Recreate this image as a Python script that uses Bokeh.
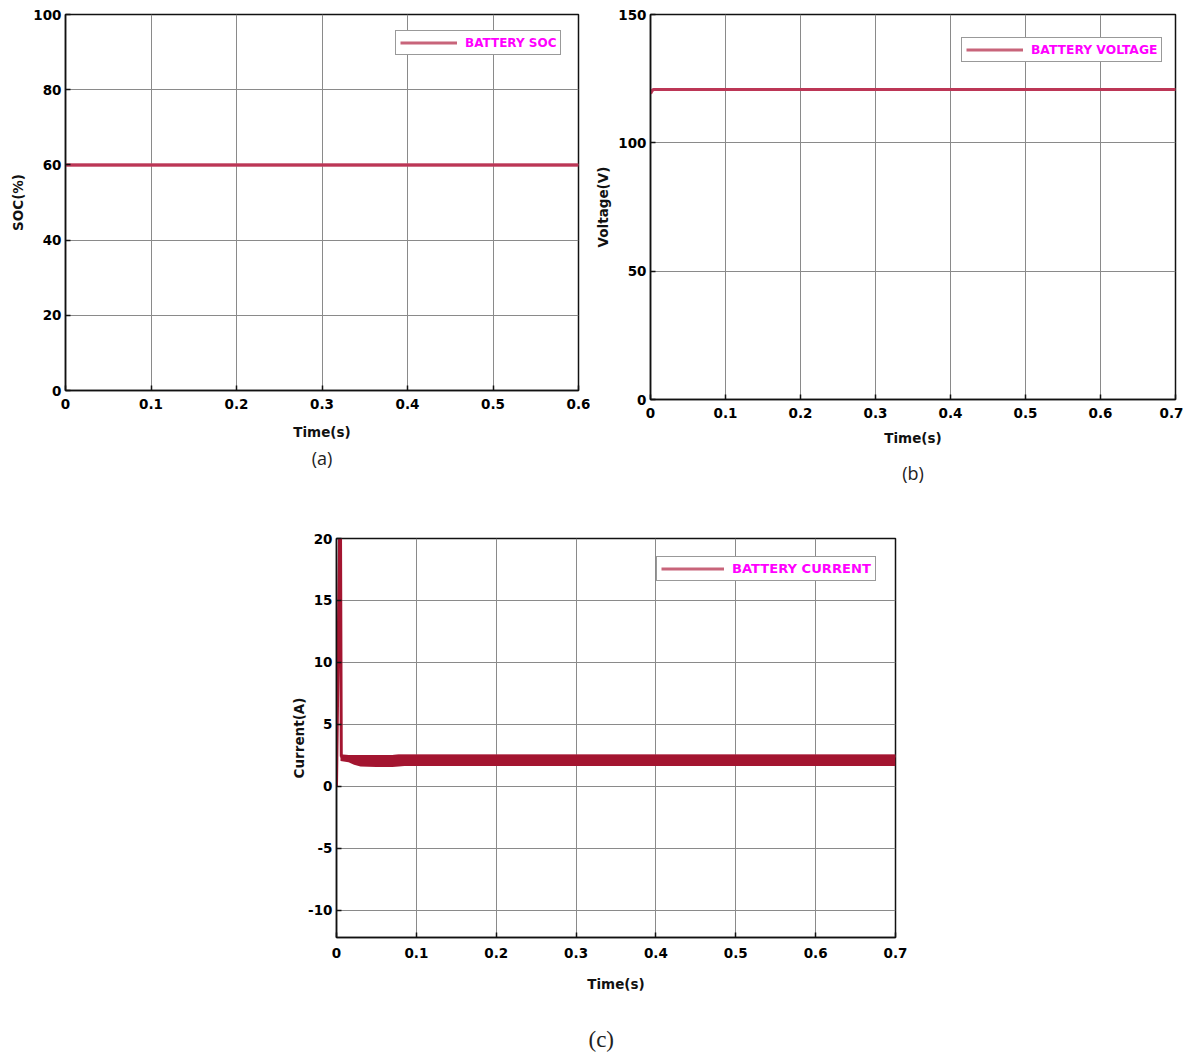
from bokeh.plotting import figure
from bokeh.layouts import column, row
from bokeh.models import Spacer, Title, Range1d, FixedTicker, Legend
from bokeh.embed import file_html
from bokeh.resources import INLINE

# ---------------- data ----------------
# (a) battery state of charge
t_soc = [0.0, 0.1, 0.2, 0.3, 0.4, 0.5, 0.6]
soc = [60.0, 60.0, 60.0, 60.0, 60.0, 60.0, 60.0]

# (b) battery voltage
t_volt = [0.0, 0.002, 0.005, 0.02, 0.05, 0.1, 0.2, 0.3, 0.4, 0.5, 0.6, 0.7]
volt = [119.2, 120.4, 120.8, 120.8, 120.8, 120.8, 120.8, 120.8, 120.8, 120.8, 120.8, 120.8]

# (c) battery current: start-up spike and ripple band envelope
t_spike = [0.0, 0.004, 0.005, 0.006]
i_spike = [0.0, 21.0, 21.0, 2.4]
t_band = [0.005, 0.015, 0.022, 0.03, 0.05, 0.07, 0.078, 0.085, 0.1, 0.2, 0.3, 0.4, 0.5, 0.6, 0.7]
i_upper = [2.45, 2.4, 2.4, 2.4, 2.4, 2.4, 2.45, 2.45, 2.45, 2.45, 2.45, 2.45, 2.45, 2.45, 2.45]
i_lower = [2.05, 1.95, 1.75, 1.6, 1.55, 1.55, 1.6, 1.65, 1.65, 1.65, 1.65, 1.65, 1.65, 1.65, 1.65]

ticks_a_x = [0, 0.1, 0.2, 0.3, 0.4, 0.5, 0.6]
ticks_a_y = [0, 20, 40, 60, 80, 100]
ticks_b_x = [0, 0.1, 0.2, 0.3, 0.4, 0.5, 0.6, 0.7]
ticks_b_y = [0, 50, 100, 150]
ticks_c_y = [-10, -5, 0, 5, 10, 15, 20]

FONT = "DejaVu Sans"
LINE_COL = "#BC3656"
LEG_COL = "#C8647A"
BAND_COL = "#A31530"


def style(p, xticks, yticks, xlabel, ylabel, x_std, x_lab_std, y_lab_std):
    p.xaxis.ticker = FixedTicker(ticks=xticks)
    p.yaxis.ticker = FixedTicker(ticks=yticks)
    p.xaxis.major_label_overrides = {t: ("0" if t == 0 else str(t)) for t in xticks}
    p.yaxis.major_label_overrides = {t: str(t) for t in yticks}
    for ax in (p.xaxis[0], p.yaxis[0]):
        ax.major_label_text_font = FONT
        ax.major_label_text_font_style = "bold"
        ax.major_label_text_font_size = "13.5px"
        ax.major_label_text_color = "#000000"
        ax.axis_label_text_font = FONT
        ax.axis_label_text_font_style = "bold"
        ax.axis_label_text_font_size = "13.5px"
        ax.axis_label_text_color = "#111111"
        ax.major_tick_in = 5
        ax.major_tick_out = 0
        ax.minor_tick_line_color = None
        ax.axis_line_color = "#111111"
        ax.axis_line_width = 1.5
        ax.major_tick_line_color = "#111111"
        ax.major_tick_line_width = 1.5
    p.xaxis.axis_label = xlabel
    p.yaxis.axis_label = ylabel
    p.xaxis.major_label_standoff = x_std
    p.yaxis.major_label_standoff = 4
    p.xaxis.axis_label_standoff = x_lab_std
    p.yaxis.axis_label_standoff = y_lab_std
    p.grid.grid_line_color = "#8a8a8a"
    p.grid.grid_line_width = 1
    p.outline_line_color = "#111111"
    p.outline_line_width = 1.5
    p.background_fill_color = "white"
    p.border_fill_color = "white"


def add_legend(p, label, r, loc, glyph_w, fsize):
    leg = Legend(items=[(label, [r])], location=loc)
    leg.margin = 0
    leg.padding = 4
    leg.spacing = 0
    leg.label_standoff = 8
    leg.glyph_width = glyph_w
    leg.glyph_height = 15
    leg.label_height = 15
    leg.label_text_font = FONT
    leg.label_text_font_style = "bold"
    leg.label_text_font_size = fsize
    leg.label_text_color = "#FF00FF"
    leg.border_line_color = "#333333"
    leg.border_line_width = 1.5
    leg.background_fill_color = "white"
    leg.background_fill_alpha = 1.0
    p.add_layout(leg)


def caption(p, text, font, size, standoff, align="center", offset=0):
    t = Title(text=text, align=align, text_font=font, text_font_size=size,
              text_font_style="normal", text_color="#222222", offset=offset,
              standoff=standoff)
    p.add_layout(t, "below")


# ---------------- (a) ----------------
pa = figure(frame_width=513, frame_height=376, output_backend="svg", toolbar_location=None,
            x_range=Range1d(0, 0.6), y_range=Range1d(0, 100),
            min_border_left=57, min_border_right=12, min_border_top=7, min_border_bottom=90)
style(pa, ticks_a_x, ticks_a_y, "Time(s)", "SOC(%)", 8, 12, 4)
la = pa.line(t_soc, soc, line_color=LEG_COL, line_width=3)
pa.line(t_soc, soc, line_color=LINE_COL, line_width=3)
add_legend(pa, "BATTERY SOC", la, (330, 335), 57, "12px")
caption(pa, "(a)", "Open Sans", "18px", 2)

# ---------------- (b) ----------------
pb = figure(frame_width=525, frame_height=385, output_backend="svg", toolbar_location=None,
            x_range=Range1d(0, 0.7), y_range=Range1d(0, 150),
            min_border_left=60, min_border_right=8, min_border_top=5, min_border_bottom=100)
style(pb, ticks_b_x, ticks_b_y, "Time(s)", "Voltage(V)", 8, 9, 4)
lb = pb.line(t_volt, volt, line_color=LEG_COL, line_width=3)
pb.line(t_volt, volt, line_color=LINE_COL, line_width=3)
add_legend(pb, "BATTERY VOLTAGE", lb, (311, 337), 57, "12.3px")
caption(pb, "(b)", "Open Sans", "18px", 20)

# ---------------- (c) ----------------
pc = figure(frame_width=559, frame_height=399, output_backend="svg", toolbar_location=None,
            x_range=Range1d(0, 0.7), y_range=Range1d(-12.2, 20),
            min_border_left=60, min_border_right=20, min_border_top=41, min_border_bottom=20)
style(pc, ticks_b_x, ticks_c_y, "Time(s)", "Current(A)", 10, 15, -2)
lc = pc.line(t_band, i_upper, line_color=LEG_COL, line_width=3)
pc.varea(x=t_band, y1=i_lower, y2=i_upper, fill_color=BAND_COL, fill_alpha=1.0)
pc.line(t_band, i_upper, line_color=BAND_COL, line_width=3)
pc.line(t_spike, i_spike, line_color=BAND_COL, line_width=3)
add_legend(pc, "BATTERY CURRENT", lc, (320, 356), 63, "13.1px")
caption(pc, "(c)", "Liberation Serif", "23px", 60, align="left", offset=252)

layout = column(Spacer(height=7),
                row(Spacer(width=7), pa, pb),
                row(Spacer(width=276), pc))

open("out.html", "w").write(file_html(layout, INLINE))
